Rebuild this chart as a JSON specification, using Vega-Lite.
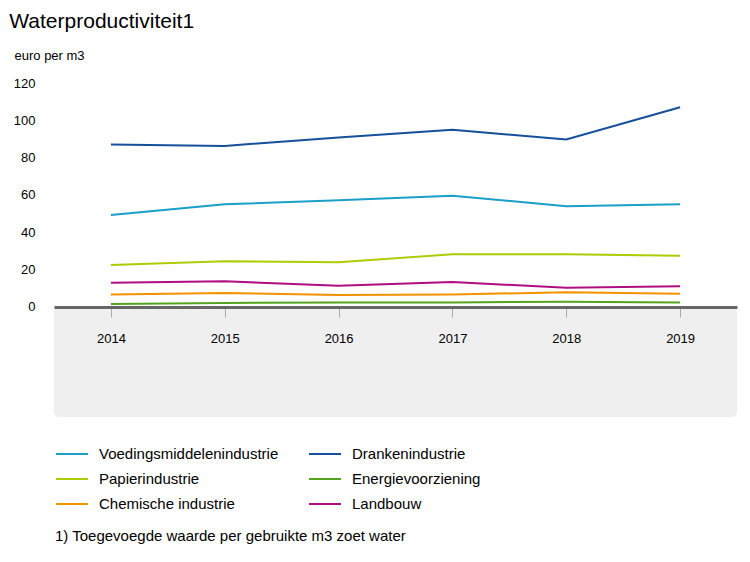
{
  "$schema": "https://vega.github.io/schema/vega-lite/v6.json",
  "width": 683,
  "height": 334,
  "autosize": {"type": "none"},
  "padding": {"left": 54, "top": 83, "right": 13, "bottom": 145},
  "background": "white",
  "title": {
    "text": "Waterproductiviteit1",
    "anchor": "start",
    "dx": -4,
    "dy": -13,
    "fontSize": 21,
    "fontWeight": "normal",
    "color": "#000000",
    "font": "Liberation Sans"
  },
  "config": {
    "font": "Liberation Sans",
    "view": {"stroke": null}
  },
  "data": {
    "values": [
      {"year": "2014", "sector": "Drankenindustrie", "value": 87},
      {"year": "2015", "sector": "Drankenindustrie", "value": 86.3},
      {"year": "2016", "sector": "Drankenindustrie", "value": 90.8},
      {"year": "2017", "sector": "Drankenindustrie", "value": 95},
      {"year": "2018", "sector": "Drankenindustrie", "value": 89.7},
      {"year": "2019", "sector": "Drankenindustrie", "value": 107},
      {"year": "2014", "sector": "Voedingsmiddelenindustrie", "value": 49.2},
      {"year": "2015", "sector": "Voedingsmiddelenindustrie", "value": 55},
      {"year": "2016", "sector": "Voedingsmiddelenindustrie", "value": 57.2},
      {"year": "2017", "sector": "Voedingsmiddelenindustrie", "value": 59.6},
      {"year": "2018", "sector": "Voedingsmiddelenindustrie", "value": 54},
      {"year": "2019", "sector": "Voedingsmiddelenindustrie", "value": 55},
      {"year": "2014", "sector": "Papierindustrie", "value": 22.5},
      {"year": "2015", "sector": "Papierindustrie", "value": 24.5},
      {"year": "2016", "sector": "Papierindustrie", "value": 23.9},
      {"year": "2017", "sector": "Papierindustrie", "value": 28.2},
      {"year": "2018", "sector": "Papierindustrie", "value": 28.2},
      {"year": "2019", "sector": "Papierindustrie", "value": 27.4},
      {"year": "2014", "sector": "Landbouw", "value": 13},
      {"year": "2015", "sector": "Landbouw", "value": 13.7},
      {"year": "2016", "sector": "Landbouw", "value": 11.4},
      {"year": "2017", "sector": "Landbouw", "value": 13.3},
      {"year": "2018", "sector": "Landbouw", "value": 10.3},
      {"year": "2019", "sector": "Landbouw", "value": 11.1},
      {"year": "2014", "sector": "Chemische industrie", "value": 6.6},
      {"year": "2015", "sector": "Chemische industrie", "value": 7.4},
      {"year": "2016", "sector": "Chemische industrie", "value": 6.4},
      {"year": "2017", "sector": "Chemische industrie", "value": 6.7},
      {"year": "2018", "sector": "Chemische industrie", "value": 7.8},
      {"year": "2019", "sector": "Chemische industrie", "value": 7.1},
      {"year": "2014", "sector": "Energievoorziening", "value": 1.6},
      {"year": "2015", "sector": "Energievoorziening", "value": 2.1},
      {"year": "2016", "sector": "Energievoorziening", "value": 2.4},
      {"year": "2017", "sector": "Energievoorziening", "value": 2.4},
      {"year": "2018", "sector": "Energievoorziening", "value": 2.8},
      {"year": "2019", "sector": "Energievoorziening", "value": 2.3}
    ]
  },
  "layer": [
    {
      "mark": {"type": "rect", "fill": "#efefef", "cornerRadiusBottomLeft": 6, "cornerRadiusBottomRight": 6},
      "encoding": {
        "x": {"value": 0},
        "x2": {"value": "width"},
        "y": {"datum": 0, "type": "quantitative"},
        "y2": {"datum": -59}
      }
    },
    {
      "mark": {"type": "line", "strokeWidth": 2},
      "encoding": {
        "x": {
          "field": "year",
          "type": "ordinal",
          "scale": {"type": "point", "padding": 0.5},
          "axis": {
            "title": null,
            "orient": "bottom",
            "offset": -110,
            "zindex": 1,
            "domainColor": "#666666",
            "domainWidth": 3,
            "tickColor": "#aaaaaa",
            "tickSize": 10,
            "tickWidth": 1,
            "labelAngle": 0,
            "labelFontSize": 13,
            "labelColor": "#000000",
            "labelPadding": 15
          }
        },
        "y": {
          "field": "value",
          "type": "quantitative",
          "scale": {"domain": [-59, 120], "nice": false, "zero": false},
          "axis": {
            "title": "euro per m3",
            "titleAngle": 0,
            "titleX": -40,
            "titleY": -28,
            "titleAlign": "left",
            "titleBaseline": "middle",
            "titleFontSize": 13,
            "titleFontWeight": "normal",
            "titleColor": "#000000",
            "values": [0, 20, 40, 60, 80, 100, 120],
            "domain": false,
            "ticks": false,
            "labelPadding": 19,
            "labelFontSize": 13,
            "labelColor": "#000000",
            "gridColor": "#d0d0d0",
            "gridWidth": 1
          }
        },
        "color": {
          "field": "sector",
          "type": "nominal",
          "scale": {
            "domain": ["Voedingsmiddelenindustrie", "Drankenindustrie", "Papierindustrie", "Energievoorziening", "Chemische industrie", "Landbouw"],
            "range": ["#1aa0c8", "#164f9a", "#afcb05", "#53a31d", "#f39200", "#af0e80"]
          },
          "legend": {
            "orient": "none",
            "legendX": 1,
            "legendY": 354,
            "columns": 2,
            "direction": "horizontal",
            "symbolType": "stroke",
            "symbolSize": 1024,
            "symbolStrokeWidth": 2,
            "labelFontSize": 15,
            "labelColor": "#000000",
            "labelOffset": 10,
            "labelLimit": 400,
            "columnPadding": 26,
            "rowPadding": -7,
            "title": "1) Toegevoegde waarde per gebruikte m3 zoet water",
            "titleOrient": "bottom",
            "titleAnchor": "start",
            "titleFontSize": 15,
            "titleFontWeight": "normal",
            "titleColor": "#000000",
            "titleLimit": 700,
            "titlePadding": 17
          }
        }
      }
    }
  ]
}
